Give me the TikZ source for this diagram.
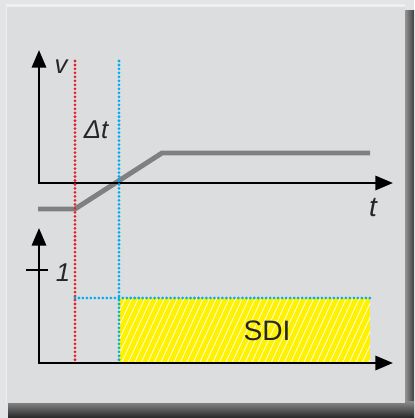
\documentclass[tikz,border=0pt]{standalone}
\usepackage{fontspec}
\setmainfont{Liberation Sans}
\definecolor{framegray}{RGB}{227,228,229}
\definecolor{panelgray}{RGB}{220,221,223}
\definecolor{paneledge}{RGB}{238,239,240}
\definecolor{curvegray}{RGB}{128,128,130}
\definecolor{dotred}{RGB}{232,32,42}
\definecolor{dotblue}{RGB}{0,174,239}
\definecolor{sdiyellow}{RGB}{255,242,0}
\usepackage{tikz}
\usetikzlibrary{arrows.meta,positioning,calc}

\begin{document}
\begin{tikzpicture}[x=0.03cm,y=-0.03cm,
      axis/.style={line width=2.4pt,line join=miter,
                   {Triangle[length=15pt,width=12pt]}-{Triangle[length=15pt,width=12pt]}},
      dotline/.style={line width=2.6pt,line cap=round,dash pattern=on 0pt off 3.4pt},
      lbl/.style={font=\fontsize{22}{25}\selectfont\itshape,inner sep=0pt,text=black!85}]
      % frame and shadow
      \fill[framegray] (0,0) rectangle (414,418);
      \shade[left color=black!35,right color=black!75] (403,10) rectangle (414,418);
      \shade[top color=black!45,bottom color=black!85] (8,401) rectangle (414,418);
      \fill[paneledge] (6,4) rectangle (405,403);
      \fill[panelgray] (7,7) rectangle (405,403);
      % points
      \coordinate (o1) at (39,183);
      \coordinate (vtop) at (39,50);
      \coordinate (tend) at (393,183);
      \coordinate (o2) at (39,363);
      \coordinate (stop) at (39,228);
      \coordinate (send) at (393,363);
      \coordinate (red1) at (75,61);
      \coordinate (red2) at (75,363);
      \coordinate (blue1) at (119,61);
      \coordinate (blue2) at (119,363);
      \coordinate (lvl1) at (75,298);
      \coordinate (lvl2) at (370,298);
      \coordinate (tick1) at (26,270);
      \coordinate (tick2) at (48,270);
      % SDI area
      \fill[sdiyellow] (119,298) rectangle (370,363);
      \begin{scope}
        \clip (119,298) rectangle (370,363);
        \foreach \i in {0,...,46}
          \draw[white,line width=0.6pt] ({119+6.5*\i-30},363) -- ({119+6.5*\i},298);
      \end{scope}
      % speed curve
      \draw[curvegray,line width=4.2pt] (38,209) -- (75,209) -- (162,153) -- (370,153);
      % axes
      \draw[axis] (vtop) -- (o1) -- (tend);
      \draw[axis] (stop) -- (o2) -- (send);
      \draw[line width=1.6pt] (tick1) -- (tick2);
      % dotted marks
      \draw[dotline,dotred] (red1) -- (red2);
      \draw[dotline,dotblue] (blue1) -- (blue2);
      \draw[dotline,dotblue] (lvl1) -- (lvl2);
      % labels
      \node[lbl] (v) at (61,67) {v};
      \node[lbl] (dt) at (96,130) {Δt};
      \node[lbl,font=\fontsize{24}{27}\selectfont\itshape] (t) at (373,208) {t};
      \node[lbl] (one) at (63,273) {1};
      \node[lbl,font=\fontsize{24}{27}\selectfont] (sdi) at (267,331) {SDI};
\end{tikzpicture}
\end{document}
